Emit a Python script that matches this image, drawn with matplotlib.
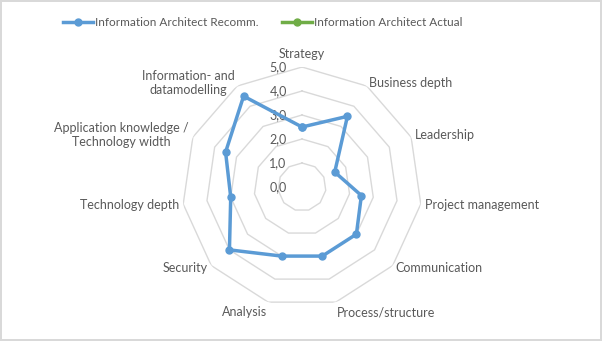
import numpy as np
import matplotlib
matplotlib.use('Agg')
import matplotlib.pyplot as plt
from matplotlib.lines import Line2D

plt.rcParams['font.family'] = ['Lato', 'DejaVu Sans']

categories = ['Strategy', 'Business depth', 'Leadership', 'Project management',
              'Communication', 'Process/structure', 'Analysis', 'Security',
              'Technology depth', 'Application knowledge /\nTechnology width',
              'Information- and\ndatamodelling']
recommended = [2.5, 3.5, 1.5, 2.5, 3.0, 3.0, 3.0, 4.0, 3.0, 3.5, 4.5]
actual = [np.nan] * len(categories)
ticks = [0, 1, 2, 3, 4, 5]
series_names = ['Information Architect Recomm.', 'Information Architect Actual']

blue = '#5B9BD5'
green = '#70AD47'
text_col = '#595959'
grid_col = '#D9D9D9'

n = len(categories)
theta = np.linspace(0, 2 * np.pi, n, endpoint=False)
theta_closed = np.append(theta, theta[0])

fig = plt.figure(figsize=(6.02, 3.41), dpi=100, facecolor='white',
                 edgecolor=grid_col, linewidth=1.5)
ax = fig.add_axes([0.3023, 0.0997, 0.3987, 0.7038], projection='polar')
ax.set_theta_zero_location('N')
ax.set_theta_direction(-1)
ax.set_ylim(0, 5)
ax.grid(False)
ax.spines['polar'].set_visible(False)
ax.set_xticks([])
ax.set_yticks([])

# polygon rings instead of circles
for t in ticks[1:]:
    ax.plot(theta_closed, [t] * (n + 1), color=grid_col, lw=1, zorder=1)

# tick labels (comma decimals like the excel original)
for t in ticks:
    lab = ('%.1f' % t).replace('.', ',')
    ax.annotate(lab, xy=(0, t), xytext=(-11, 0), textcoords='offset points',
                ha='right', va='center', fontsize=9, color=text_col)

# category labels
for ang, lab in zip(theta, categories):
    s, c = np.sin(ang), np.cos(ang)
    if abs(s) < 0.1:
        ha = 'center'
    elif s > 0:
        ha = 'left'
    else:
        ha = 'right'
    if c > 0.9:
        va = 'bottom'
    elif c < -0.9:
        va = 'top'
    else:
        va = 'center'
    ax.annotate(lab, xy=(ang, 5), xytext=(3 * s, 3 * c + (2 if c > 0.9 else 0)),
                textcoords='offset points', ha=ha, va=va, fontsize=9,
                color=text_col, multialignment='center')

rec_closed = np.append(recommended, recommended[0])
act_closed = np.append(actual, actual[0])
ax.plot(theta_closed, rec_closed, color=blue, lw=2.5, marker='o', ms=5, zorder=3)
ax.plot(theta_closed, act_closed, color=green, lw=2.5, marker='o', ms=5, zorder=3)

handles = [Line2D([], [], color=blue, lw=2.5, marker='o', ms=5),
           Line2D([], [], color=green, lw=2.5, marker='o', ms=5)]
leg = fig.legend(handles, series_names, loc='center', bbox_to_anchor=(0.437, 0.935),
                 ncol=2, frameon=False, fontsize=8.5, handlelength=2.5,
                 handletextpad=0.2, columnspacing=2.0, markerscale=1)
for txt in leg.get_texts():
    txt.set_color(text_col)

fig.savefig('out.png', dpi=100)
